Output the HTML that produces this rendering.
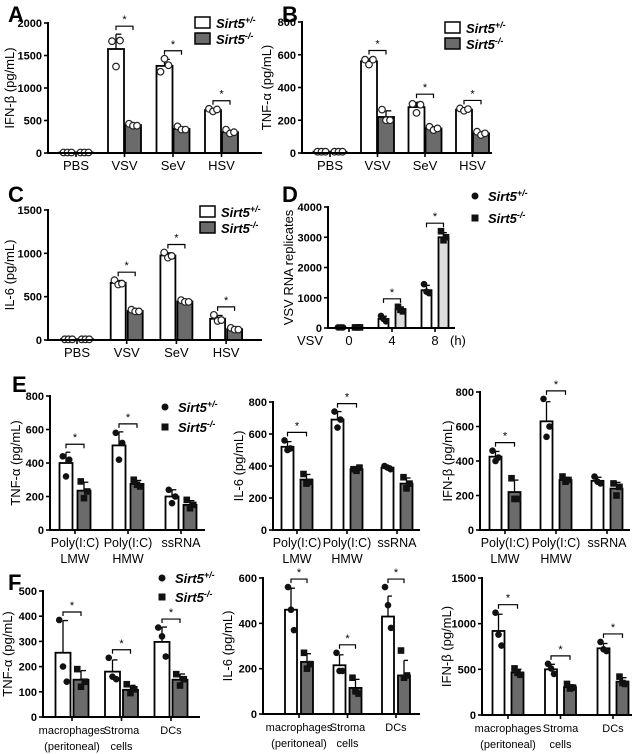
<!DOCTYPE html>
<html><head><meta charset="utf-8">
<style>
html,body{margin:0;padding:0;background:#fff;}
svg{display:block;font-family:"Liberation Sans",Arial,sans-serif;}
</style></head>
<body>
<svg id="fig" width="640" height="754" viewBox="0 0 640 754" xmlns="http://www.w3.org/2000/svg"></svg>
<script>
// ---------- DATA ----------
const catsABC = ["PBS","VSV","SeV","HSV"];
const catsD = ["0","4","8"];
const catsE = [["Poly(I:C)","LMW"],["Poly(I:C)","HMW"],["ssRNA"]];
const catsF = [["macrophages","(peritoneal)"],["Stroma","cells"],["DCs"]];

const meanA = [[10,10],[1600,430],[1340,370],[660,320]];
const ptsA = [[[8,8,8],[8,8,8]],[[1720,1330,1730],[450,420,420]],[[1250,1450,1350],[410,360,360]],[[680,640,670],[360,300,320]]];
const sigA = [0,1,1,1];
const ticksA = [0,500,1000,1500,2000];

const meanB = [[8,8],[560,220],[280,150],[265,120]];
const ptsB = [[[8,8,8],[8,8,8]],[[570,540,570],[265,200,200]],[[300,245,295],[160,140,150]],[[272,258,268],[130,110,120]]];
const sigB = [0,1,1,1];
const ticksB = [0,200,400,600,800];

const meanC = [[10,10],[660,335],[975,445],[245,125]];
const ptsC = [[[8,8,8],[8,8,8]],[[690,640,650],[350,330,330]],[[1010,950,970],[460,440,440]],[[290,220,230],[140,120,120]]];
const sigC = [0,1,1,1];
const ticksC = [0,500,1000,1500];

const meanD = [[20,20],[300,620],[1250,3000]];
const ptsD = [[[20,20,20],[20,20,20]],[[400,300,220],[700,600,550]],[[1450,1200,1150],[3200,2900,3000]]];
const sigD = [0,1,1];
const ticksD = [0,1000,2000,3000,4000];

const meanE1 = [[400,235],[505,275],[200,150]];
const ptsE1 = [[[440,320,420],[290,190,230]],[[580,420,520],[300,270,260]],[[240,160,200],[180,130,150]]];
const meanE2 = [[520,315],[690,380],[390,290]];
const ptsE2 = [[[560,500,510],[350,290,300]],[[740,640,690],[380,370,390]],[[400,390,380],[330,260,290]]];
const meanE3 = [[425,220],[630,290],[285,240]];
const ptsE3 = [[[460,400,420],[300,180,180]],[[760,540,600],[310,280,290]],[[310,280,270],[270,200,250]]];
const sigE = [1,1,0];
const ticksE = [0,200,400,600,800];

const meanF1 = [[255,148],[180,108],[298,148]];
const ptsF1 = [[[385,200,140],[190,120,140]],[[235,160,150],[130,95,110]],[[355,320,240],[170,125,150]]];
const ticksF1 = [0,100,200,300,400,500];
const meanF2 = [[460,230],[215,115],[430,170]];
const ptsF2 = [[[560,460,370],[270,200,220]],[[270,190,190],[160,100,90]],[[560,480,380],[280,160,170]]];
const ticksF2 = [0,200,400,600];
const meanF3 = [[920,465],[500,305],[730,365]];
const ptsF3 = [[[1120,880,760],[510,460,440]],[[560,510,450],[340,290,300]],[[800,720,700],[420,350,340]]];
const ticksF3 = [0,500,1000,1500];
const sigF = [1,1,1];

// ---------- DRAWING ----------
const NS="http://www.w3.org/2000/svg";
const svg=document.getElementById('fig');
function el(tag,attrs,parent,text){const e=document.createElementNS(NS,tag);for(const k in attrs)e.setAttribute(k,attrs[k]);if(text!==undefined)e.textContent=text;(parent||svg).appendChild(e);return e;}
function sd(a){const m=a.reduce((s,v)=>s+v,0)/a.length;return Math.sqrt(a.reduce((s,v)=>s+(v-m)*(v-m),0)/(a.length-1));}

function panel(cfg){
  const g=el('g',{});
  
  
  const vmax=cfg.ticks[cfg.ticks.length-1];
  const y=v=>cfg.y0-(v/vmax)*(cfg.y0-cfg.yTop);
  const xc=i=>cfg.start+i*cfg.step;
  cfg.ticks.forEach(t=>{
    const tl=el('line',{x1:cfg.ax-4,x2:cfg.ax,y1:y(t),y2:y(t),stroke:'#000','stroke-width':1.6},g);
    
    
    const tx=el('text',{x:cfg.ax-6,y:y(t)+4,'text-anchor':'end','font-size':11,'font-weight':'bold'},g,String(t));
    
    
  });
  const yt=el('text',{x:0,y:0,transform:`translate(${cfg.titleX},${(cfg.y0+cfg.yTop)/2}) rotate(-90)`,'text-anchor':'middle','font-size':13},g,cfg.title);
  
  
  cfg.means.forEach((pair,i)=>{
    pair.forEach((v,j)=>{
      const cx=xc(i)+(j===0?-1:1)*cfg.off;
      const r=el('rect',{x:cx-cfg.bw/2,y:y(v),width:cfg.bw,height:cfg.y0-y(v),fill:j===0?'#fff':cfg.grey,stroke:'#000','stroke-width':1.8},g);
      
      
      const pts=cfg.pts[i][j];
      const s=sd(pts);
      if(s>0 && y(v)<cfg.y0-6){
        const e1=el('line',{x1:cx,x2:cx,y1:y(v),y2:y(v+s),stroke:'#000','stroke-width':1.3},g);
        
        
        el('line',{x1:cx,x2:cx+cfg.bw/3,y1:y(v+s),y2:y(v+s),stroke:'#000','stroke-width':1.3},g);
      }
      pts.forEach((p,k)=>{
        const px=cx+(k-1)*(cfg.bw/4);
        let m;
        if(cfg.hollow){m=el('circle',{cx:px,cy:y(p),r:3.3,fill:'#fff',stroke:'#222','stroke-width':1.2},g);}
        else if(j===0){m=el('circle',{cx:px,cy:y(p),r:3.3,fill:'#111'},g);}
        else{m=el('rect',{x:px-3.3,y:y(p)-3.3,width:6.6,height:6.6,fill:'#111'},g);}
        
        
      });
    });
    if(cfg.sig[i]){
      const allMax=Math.max(...cfg.pts[i][0],...cfg.pts[i][1],pair[0]+sd(cfg.pts[i][0]));
      const by=y(allMax)-8;
      const x1=xc(i)-cfg.off,x2=xc(i)+cfg.off;
      const br=el('path',{d:`M${x1},${by+4}V${by}H${x2}V${by+4}`,fill:'none',stroke:'#000','stroke-width':1.2},g);
      
      
      const st=el('text',{x:(x1+x2)/2,y:by-3,'text-anchor':'middle','font-size':11},g,'*');
      
      
    }
    el('line',{x1:xc(i),x2:xc(i),y1:cfg.y0,y2:cfg.y0+4,stroke:'#000','stroke-width':1.6},g);
    const lab=Array.isArray(cfg.cats[i])?cfg.cats[i]:[cfg.cats[i]];
    lab.forEach((l,li)=>{
      const t=el('text',{x:xc(i),y:cfg.y0+17+li*16,'text-anchor':'middle','font-size':cfg.catFont||13},g,l);
      
      
    });
  });
  const ya=el('line',{x1:cfg.ax,x2:cfg.ax,y1:cfg.yTop-1,y2:cfg.y0+1,stroke:'#000','stroke-width':2},g);
  
  
  const xa=el('line',{x1:cfg.ax-1,x2:cfg.xEnd,y1:cfg.y0,y2:cfg.y0,stroke:'#000','stroke-width':2},g);
  
  
}

function legendText(parent,x,y,sup){
  const t=el('text',{x:x,y:y,'font-size':13,'font-style':'italic','font-weight':'bold'},parent);
  el('tspan',{},t,'Sirt5');
  el('tspan',{'font-size':9,dy:-5},t,sup);
  return t;
}
function boxLegend(x,y){
  const g=el('g',{});
  
  
  el('rect',{x:x,y:y-6,width:15,height:11,fill:'#fff',stroke:'#000','stroke-width':1.5},g);
  legendText(g,x+21,y+5,'+/-');
  el('rect',{x:x,y:y+10,width:15,height:11,fill:'#6b6b6b',stroke:'#000','stroke-width':1.5},g);
  legendText(g,x+21,y+21,'-/-');
}
function markLegend(x,y,gap){
  const g=el('g',{});
  
  
  el('circle',{cx:x,cy:y,r:3.5,fill:'#111'},g);
  legendText(g,x+13,y+5,'+/-');
  el('rect',{x:x-3.5,y:y+gap-3.5,width:7,height:7,fill:'#111'},g);
  legendText(g,x+13,y+gap+5,'-/-');
}
function letter(x,y,t){const e=el('text',{x:x,y:y,'font-size':22,'font-weight':'bold'},svg,t);}

const G='#6b6b6b';
panel({name:'panel-a',ax:48,y0:153,yTop:23,ticks:ticksA,xEnd:262,start:76,step:48.5,bw:16,off:8.5,means:meanA,pts:ptsA,sig:sigA,cats:catsABC,title:'IFN-β (pg/mL)',titleX:14,hollow:true,grey:G});
panel({name:'panel-b',ax:302,y0:153,yTop:22,ticks:ticksB,xEnd:492,start:330,step:47.5,bw:16,off:8.5,means:meanB,pts:ptsB,sig:sigB,cats:catsABC,title:'TNF-α (pg/mL)',titleX:271,hollow:true,grey:G});
panel({name:'panel-c',ax:48,y0:340,yTop:210,ticks:ticksC,xEnd:262,start:77,step:49.7,bw:15,off:8.5,means:meanC,pts:ptsC,sig:sigC,cats:catsABC,title:'IL-6 (pg/mL)',titleX:14,hollow:true,grey:G});
panel({name:'panel-d',ax:328,y0:328,yTop:207,ticks:ticksD,xEnd:455,start:349,step:43,bw:10,off:8.5,means:meanD,pts:ptsD,sig:sigD,cats:catsD,title:'VSV RNA replicates',titleX:293,hollow:false,grey:'#dcdcdc'});
panel({name:'panel-e-tnf',ax:50,y0:530,yTop:396,ticks:ticksE,xEnd:205,start:75,step:53,bw:13,off:9,means:meanE1,pts:ptsE1,sig:sigE,cats:catsE,title:'TNF-α (pg/mL)',titleX:20,hollow:false,grey:G,catFont:12.5});
panel({name:'panel-e-il6',ax:273,y0:530,yTop:402,ticks:ticksE,xEnd:420,start:297,step:50,bw:12,off:9.5,means:meanE2,pts:ptsE2,sig:sigE,cats:catsE,title:'IL-6 (pg/mL)',titleX:243,hollow:false,grey:G,catFont:12.5});
panel({name:'panel-e-ifnb',ax:480,y0:530,yTop:392,ticks:ticksE,xEnd:630,start:505,step:51,bw:12,off:9.5,means:meanE3,pts:ptsE3,sig:sigE,cats:catsE,title:'IFN-β (pg/mL)',titleX:452,hollow:false,grey:G,catFont:12.5});
panel({name:'panel-f-tnf',ax:43,y0:717,yTop:591,ticks:ticksF1,xEnd:200,start:72,step:49.5,bw:15,off:9,means:meanF1,pts:ptsF1,sig:sigF,cats:catsF,title:'TNF-α (pg/mL)',titleX:12,hollow:false,grey:G,catFont:11});
panel({name:'panel-f-il6',ax:263,y0:714,yTop:578,ticks:ticksF2,xEnd:420,start:299,step:48.5,bw:12,off:8,means:meanF2,pts:ptsF2,sig:sigF,cats:catsF,title:'IL-6 (pg/mL)',titleX:232,hollow:false,grey:G,catFont:11});
panel({name:'panel-f-ifnb',ax:482,y0:715,yTop:578,ticks:ticksF3,xEnd:632,start:508,step:52.5,bw:12,off:9.5,means:meanF3,pts:ptsF3,sig:sigF,cats:catsF,title:'IFN-β (pg/mL)',titleX:451,hollow:false,grey:G,catFont:11});

const vsv=el('text',{x:297,y:345,'font-size':13},svg,'VSV');
const hh=el('text',{x:450,y:345,'font-size':13},svg,'(h)');

boxLegend(195,23);
boxLegend(445,28);
boxLegend(200,212);
markLegend(475,196,22);
markLegend(165,407,20);
markLegend(162,578,19);

letter(8,22,'A');letter(282,22,'B');letter(8,202,'C');letter(282,202,'D');letter(12,392,'E');letter(8,590,'F');
</script>
</body></html>
